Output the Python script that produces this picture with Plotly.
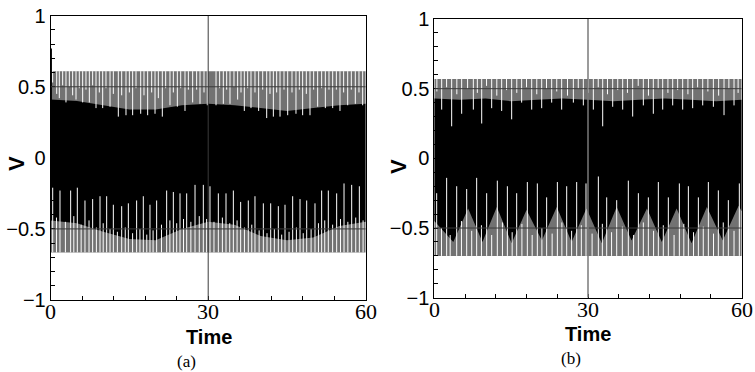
import plotly.graph_objects as go

# ---------------- data ----------------
env_t = [0, 5, 10, 15, 20, 25, 30, 35, 40, 45, 50, 55, 60]

# panel (a)
a_outer_top = 0.61
a_outer_bottom = -0.665
a_start_peak = 0.77
a_inner_top = [0.41, 0.40, 0.37, 0.34, 0.34, 0.37, 0.38, 0.37, 0.35, 0.33, 0.35, 0.37, 0.38]
a_inner_bottom = [-0.44, -0.46, -0.52, -0.57, -0.58, -0.50, -0.45, -0.47, -0.55, -0.58, -0.56, -0.48, -0.45]
a_top_spike_t = [0.37, 1.14, 1.64, 2.28, 2.91, 3.55, 4.18, 4.82, 5.45, 6.09, 6.72, 7.36, 7.99, 8.63,
                 9.26, 9.90, 10.53, 11.30, 11.93, 12.88, 13.52, 14.34, 14.98, 15.61, 16.25, 17.14,
                 17.77, 18.47, 19.23, 19.87, 20.50, 21.26, 21.90, 22.72, 23.36, 24.12, 24.76, 25.58,
                 26.22, 27.04, 27.80, 28.44, 29.20, 29.83, 31.49, 32.18, 32.88, 33.52, 34.15, 34.91,
                 35.61, 36.25, 36.88, 37.52, 38.15, 38.91, 39.61, 40.38, 41.14, 41.77, 42.41, 43.04,
                 43.68, 44.44, 45.14, 45.96, 46.72, 47.36, 47.99, 48.69, 49.39, 50.09, 50.85, 51.61,
                 52.31, 53.01, 53.71, 54.41, 55.10, 55.80, 56.57, 57.26, 58.02, 58.72, 59.42]
a_top_spike_v = [0.53, 0.45, 0.42, 0.51, 0.39, 0.50, 0.44, 0.41, 0.49, 0.39, 0.48, 0.39, 0.51, 0.35,
                 0.46, 0.35, 0.49, 0.36, 0.45, 0.29, 0.44, 0.30, 0.46, 0.30, 0.49, 0.31,
                 0.44, 0.30, 0.46, 0.31, 0.42, 0.29, 0.49, 0.37, 0.46, 0.36, 0.49, 0.33,
                 0.48, 0.39, 0.48, 0.38, 0.46, 0.37, 0.37, 0.49, 0.38, 0.48, 0.38, 0.50,
                 0.41, 0.46, 0.33, 0.49, 0.35, 0.46, 0.33, 0.48, 0.28, 0.45, 0.29, 0.46,
                 0.29, 0.48, 0.30, 0.46, 0.31, 0.48, 0.30, 0.45, 0.30, 0.48, 0.36, 0.49,
                 0.35, 0.48, 0.35, 0.48, 0.33, 0.46, 0.37, 0.48, 0.38, 0.46, 0.37]
a_bot_spike_t = [0.38, 1.77, 3.80, 5.07, 6.53, 7.99, 9.39, 10.66, 11.93, 13.52, 14.79, 16.37, 17.64,
                 18.91, 20.18, 22.09, 23.36, 24.63, 25.90, 27.49, 29.07, 30.34, 31.93, 33.39, 34.79,
                 36.18, 37.64, 38.91, 40.50, 41.90, 43.36, 44.63, 46.09, 47.49, 48.76, 50.34, 51.61,
                 52.88, 54.47, 55.87, 57.33, 58.79]
a_bot_spike_v = [-0.21, -0.23, -0.23, -0.21, -0.30, -0.29, -0.27, -0.27, -0.33, -0.34, -0.32, -0.30, -0.27,
                 -0.33, -0.30, -0.23, -0.24, -0.25, -0.25, -0.19, -0.19, -0.20, -0.25, -0.25, -0.23,
                 -0.31, -0.30, -0.27, -0.32, -0.32, -0.34, -0.33, -0.27, -0.29, -0.30, -0.32, -0.23,
                 -0.23, -0.25, -0.18, -0.19, -0.20]
a_bot_short_t = [1.1, 2.8, 4.4, 5.8, 7.3, 8.7, 10.0, 11.3, 12.7, 14.2, 15.6, 17.0, 18.3, 19.5, 21.1,
                 22.7, 24.0, 25.3, 26.7, 28.3, 29.7, 31.1, 32.7, 34.1, 35.5, 36.9, 38.3, 39.7, 41.2,
                 42.6, 44.0, 45.4, 46.8, 48.1, 49.6, 51.0, 52.2, 53.7, 55.2, 56.6, 58.1, 59.5]
a_bot_short_v = [-0.42, -0.45, -0.41, -0.47, -0.44, -0.49, -0.46, -0.50, -0.52, -0.49, -0.53, -0.50, -0.54,
                 -0.51, -0.47, -0.44, -0.46, -0.43, -0.45, -0.41, -0.43, -0.45, -0.42, -0.46, -0.44,
                 -0.49, -0.47, -0.51, -0.53, -0.50, -0.54, -0.52, -0.49, -0.53, -0.50, -0.46, -0.44,
                 -0.47, -0.43, -0.45, -0.42, -0.44]

# panel (b)
b_outer_top = 0.57
b_outer_bottom = -0.70
b_inner_top = [0.43, 0.42, 0.43, 0.41, 0.42, 0.43, 0.42, 0.41, 0.42, 0.43, 0.42, 0.41, 0.42]
b_low_t = [0, 3.7, 6.6, 9.4, 12.2, 15.1, 18.0, 21.0, 23.9, 26.8, 29.7, 32.7, 35.6, 38.5, 41.5, 44.4,
           47.3, 50.2, 53.2, 56.3, 59.4, 60]
b_inner_bottom = [-0.45, -0.60, -0.36, -0.60, -0.35, -0.61, -0.37, -0.59, -0.35, -0.60, -0.36, -0.61,
                  -0.35, -0.59, -0.36, -0.60, -0.36, -0.61, -0.35, -0.59, -0.34, -0.38]
b_top_spike_t = [1.44, 3.39, 5.34, 7.62, 9.25, 11.20, 13.15, 15.10, 17.05, 19.01, 20.96, 22.91, 24.86,
                 27.14, 29.09, 31.04, 32.87, 34.82, 36.77, 38.72, 40.80, 42.75, 44.58, 46.53, 48.48,
                 50.43, 52.39, 54.47, 56.55, 58.50]
b_top_spike_v = [0.35, 0.23, 0.32, 0.35, 0.25, 0.36, 0.34, 0.28, 0.40, 0.35, 0.36, 0.40, 0.35,
                 0.40, 0.38, 0.35, 0.23, 0.37, 0.35, 0.30, 0.38, 0.32, 0.35, 0.38, 0.35,
                 0.36, 0.38, 0.37, 0.31, 0.38]
b_top_short_t = [0.5, 2.4, 4.4, 6.5, 8.4, 10.2, 12.2, 14.1, 16.1, 18.0, 20.0, 21.9, 23.9, 26.0, 28.1,
                 30.1, 32.0, 33.8, 35.8, 37.7, 39.8, 41.8, 43.7, 45.6, 47.5, 49.5, 51.4, 53.4, 55.5,
                 57.5, 59.3]
b_top_short_v = [0.48, 0.51, 0.46, 0.50, 0.47, 0.52, 0.45, 0.49, 0.47, 0.51, 0.46, 0.50, 0.48, 0.45, 0.50,
                 0.47, 0.51, 0.46, 0.49, 0.47, 0.52, 0.45, 0.50, 0.47, 0.49, 0.46, 0.51, 0.48, 0.45,
                 0.50, 0.47]
b_bot_spike_t = [0.46, 2.41, 4.37, 6.32, 8.27, 10.22, 12.30, 14.26, 16.08, 18.16, 20.11, 21.93, 24.02,
                 25.84, 27.79, 29.61, 32.02, 33.65, 35.60, 37.87, 39.83, 41.78, 43.73, 45.68, 47.83,
                 49.59, 51.54, 53.49, 55.44, 57.39, 59.54]
b_bot_spike_v = [-0.25, -0.14, -0.20, -0.22, -0.14, -0.25, -0.16, -0.20, -0.25, -0.17, -0.18, -0.28, -0.17,
                 -0.20, -0.17, -0.18, -0.13, -0.28, -0.30, -0.16, -0.25, -0.28, -0.17, -0.28, -0.18,
                 -0.20, -0.28, -0.17, -0.23, -0.30, -0.18]
b_bot_short_t = [1.4, 3.1, 5.3, 7.3, 9.2, 11.2, 13.3, 15.2, 17.1, 19.1, 21.0, 23.0, 24.9, 26.8, 28.7,
                 30.8, 32.8, 34.6, 36.7, 38.9, 40.8, 42.8, 44.7, 46.8, 48.7, 50.6, 52.5, 54.5, 56.4, 58.5]
b_bot_short_v = [-0.50, -0.55, -0.45, -0.52, -0.48, -0.55, -0.46, -0.53, -0.47, -0.55, -0.50, -0.54,
                 -0.46, -0.52, -0.48, -0.54, -0.47, -0.53, -0.49, -0.55, -0.46, -0.52, -0.48, -0.55,
                 -0.47, -0.53, -0.49, -0.54, -0.46, -0.52]

x_ticks = [0, 30, 60]
x_tick_text = ["0", "30", "60"]
y_ticks = [-1, -0.5, 0, 0.5, 1]
y_tick_text = ["\u22121", "\u22120.5", "0", "0.5", "1"]
panel_labels = ["(a)", "(b)"]

# ---------------- figure ----------------
GRAY = "#727272"
fig = go.Figure()


def spikes(ts, vs, base):
    xs, ys = [], []
    for t, v in zip(ts, vs):
        xs += [t, t, None]
        ys += [base, v, None]
    return xs, ys


def add_panel(xa, ya, top, bottom, in_top, low_t, in_bot, spike_sets):
    fig.add_trace(go.Scatter(x=[env_t[0], env_t[-1], env_t[-1], env_t[0]],
                             y=[top, top, bottom, bottom], fill="toself",
                             fillcolor=GRAY, mode="lines", line=dict(width=0),
                             xaxis=xa, yaxis=ya, hoverinfo="skip", showlegend=False))
    fig.add_trace(go.Scatter(x=env_t + low_t[::-1], y=in_top + in_bot[::-1], fill="toself",
                             fillcolor="black", mode="lines", line=dict(width=0, color="black"),
                             xaxis=xa, yaxis=ya, hoverinfo="skip", showlegend=False))
    for ts, vs, base, col, w in spike_sets:
        xs, ys = spikes(ts, vs, base)
        fig.add_trace(go.Scatter(x=xs, y=ys, mode="lines", line=dict(color=col, width=w),
                                 xaxis=xa, yaxis=ya, hoverinfo="skip", showlegend=False))


add_panel("x", "y", a_outer_top, a_outer_bottom, a_inner_top, env_t, a_inner_bottom, [
    (a_top_spike_t, a_top_spike_v, a_outer_top, "white", 1),
    (a_bot_spike_t, a_bot_spike_v, a_outer_bottom, "white", 1),
    (a_bot_short_t, a_bot_short_v, a_outer_bottom, "white", 1),
    ([0.12], [a_start_peak], 0.2, "black", 1.2),
])
add_panel("x2", "y2", b_outer_top, b_outer_bottom, b_inner_top, b_low_t, b_inner_bottom, [
    (b_top_spike_t, b_top_spike_v, b_outer_top, "white", 1),
    (b_top_short_t, b_top_short_v, b_outer_top, "white", 1),
    (b_bot_spike_t, b_bot_spike_v, b_outer_bottom, "white", 1),
    (b_bot_short_t, b_bot_short_v, b_outer_bottom, "white", 1),
])

xaxis_common = dict(range=[0, 60], tickmode="array", tickvals=x_ticks, ticktext=x_tick_text,
                     showticklabels=False, automargin=False,
                     ticks="inside", ticklen=4, tickcolor="black",
                     minor=dict(tickmode="linear", tick0=0, dtick=6, ticks="inside", ticklen=4,
                                tickcolor="black"),
                     showline=True, linecolor="black", linewidth=1, mirror=True,
                     showgrid=False, zeroline=False)
yaxis_common = dict(range=[-1, 1], tickmode="array", tickvals=y_ticks, ticktext=y_tick_text,
                     automargin=False,
                     ticks="inside", ticklen=4, tickcolor="black",
                     minor=dict(tickmode="linear", tick0=0, dtick=0.1, ticks="inside", ticklen=4,
                                tickcolor="black"),
                     showline=True, linecolor="black", linewidth=1, mirror=True,
                     showgrid=False, zeroline=False,
                     tickfont=dict(family="Liberation Sans", size=20, color="black"))

W, H = 755, 372
ax_a = (50.7, 365.7, 15.7, 300.0)
ax_b = (434.3, 741.7, 19.0, 297.7)

fig.update_layout(
    width=W, height=H, margin=dict(l=0, r=0, t=0, b=0, autoexpand=False),
    paper_bgcolor="white", plot_bgcolor="white",
    xaxis=dict(domain=[ax_a[0] / W, ax_a[1] / W], anchor="y", **xaxis_common),
    yaxis=dict(domain=[1 - ax_a[3] / H, 1 - ax_a[2] / H], anchor="x", **yaxis_common),
    xaxis2=dict(domain=[ax_b[0] / W, ax_b[1] / W], anchor="y2", **xaxis_common),
    yaxis2=dict(domain=[1 - ax_b[3] / H, 1 - ax_b[2] / H], anchor="x2", **yaxis_common),
)

# grid lines drawn over the signal
for xr, yr, col, w in (("x", "y", "#3a3a3a", 1), ("x2", "y2", "#7a7a7a", 1.5)):
    for yv in (-0.5, 0.5):
        fig.add_shape(type="line", xref=xr, yref=yr, x0=0, x1=60, y0=yv, y1=yv,
                      line=dict(color="#3a3a3a", width=1), layer="above")
    fig.add_shape(type="line", xref=xr, yref=yr, x0=30, x1=30, y0=-1, y1=1,
                  line=dict(color=col, width=w), layer="above")

# x tick labels (serif, just below each axis)
for xr, lab_y in (("x", 311.5), ("x2", 309.0)):
    for tv, tt in zip(x_ticks, x_tick_text):
        fig.add_annotation(x=tv, y=1 - lab_y / H, xref=xr, yref="paper", text=tt,
                           showarrow=False, xanchor="center", yanchor="middle",
                           font=dict(family="Liberation Serif", size=22, color="black"))

# axis titles and panel labels
for cx, ty, vx, vy, lx, ly, lab in ((209, 337, 16, 164, 186, 361, panel_labels[0]),
                                    (588, 334, 398, 167, 571, 358, panel_labels[1])):
    fig.add_annotation(x=cx / W, y=1 - ty / H, xref="paper", yref="paper", text="<b>Time</b>",
                       showarrow=False, font=dict(family="Liberation Sans", size=20, color="black"),
                       xanchor="center", yanchor="middle")
    fig.add_annotation(x=vx / W, y=1 - vy / H, xref="paper", yref="paper", text="<b>V</b>",
                       textangle=-90, showarrow=False,
                       font=dict(family="Liberation Sans", size=22, color="black"),
                       xanchor="center", yanchor="middle")
    fig.add_annotation(x=lx / W, y=1 - ly / H, xref="paper", yref="paper", text=lab,
                       showarrow=False, font=dict(family="Liberation Serif", size=17, color="black"),
                       xanchor="center", yanchor="middle")

fig.write_html("out.html", config={"displayModeBar": False},
               post_script="document.body.style.margin='0';document.body.style.overflow='hidden';")
